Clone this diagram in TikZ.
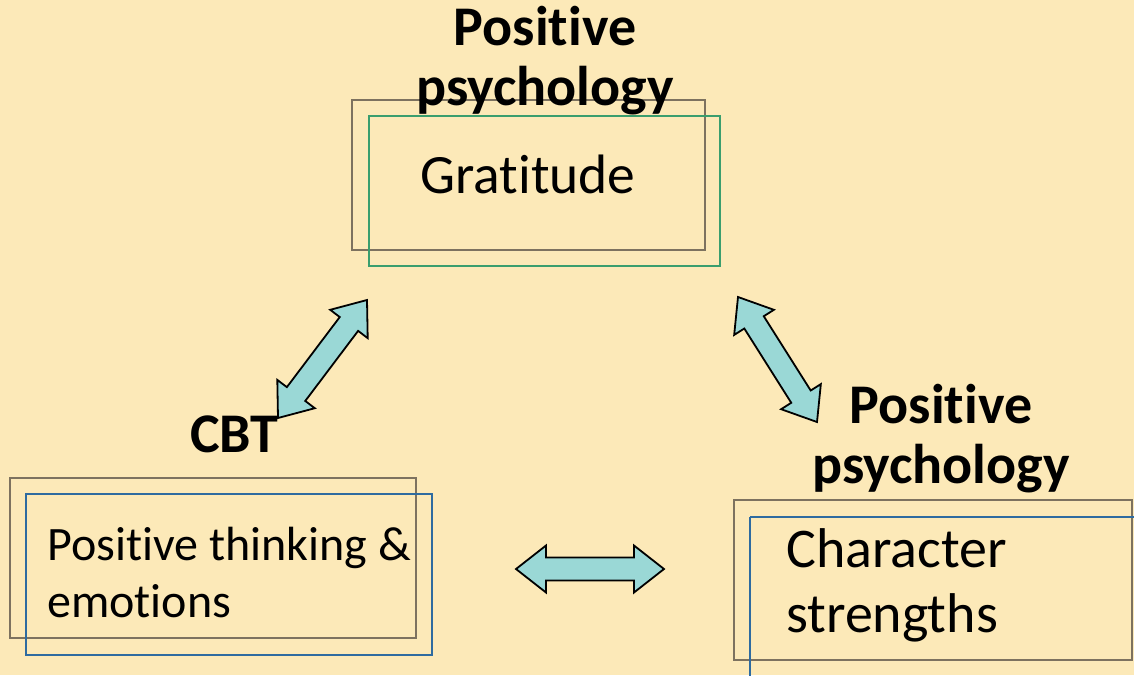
\documentclass[tikz,border=0pt]{standalone}
\usepackage{fontspec}
\setmainfont{Carlito}[Ligatures={NoCommon}]
\usetikzlibrary{calc}
\definecolor{bg}{HTML}{FCE9B8}
\definecolor{arrfill}{HTML}{9AD8D6}
\definecolor{graybox}{HTML}{7D725F}
\definecolor{greenbox}{HTML}{3A9E6E}
\definecolor{bluebox}{HTML}{2E6BA0}
\newcommand\dblarr[2]{%
  \draw[fatarrow] (#1)
   -- ($(#1)!30pt!(#2)!23.5pt!90:(#2)$)
   -- ($(#1)!30pt!(#2)!11.5pt!90:(#2)$)
   -- ($(#2)!30pt!(#1)!11.5pt!-90:(#1)$)
   -- ($(#2)!30pt!(#1)!23.5pt!-90:(#1)$)
   -- (#2)
   -- ($(#2)!30pt!(#1)!23.5pt!90:(#1)$)
   -- ($(#2)!30pt!(#1)!11.5pt!90:(#1)$)
   -- ($(#1)!30pt!(#2)!11.5pt!-90:(#2)$)
   -- ($(#1)!30pt!(#2)!23.5pt!-90:(#2)$)
   -- cycle;}
\begin{document}
\begin{tikzpicture}[x=1pt,y=-1pt,
  backbox/.style={draw=graybox,line width=2pt},
  frontg/.style={draw=greenbox,line width=1.5pt},
  frontb/.style={draw=bluebox,line width=1.5pt},
  fatarrow/.style={draw=black,line width=1.8pt,fill=arrfill,line join=miter},
  boldlbl/.style={inner sep=0pt,anchor=base,font=\fontsize{56}{60}\selectfont\bfseries},
  bodylbl/.style={inner sep=0pt,anchor=base west}]
\fill[bg] (0,0) rectangle (1134,675);
\useasboundingbox (0,0) rectangle (1134,675);
% Gratitude boxes
\draw[backbox] (352,100) rectangle (705,250);
\draw[frontg] (369,116) rectangle (720,266);
% left boxes
\draw[backbox] (10,478) rectangle (416,638);
\draw[frontb] (26,494) rectangle (432,655);
% right boxes
\draw[backbox] (734,500) rectangle (1132,660);
\draw[frontb] (750,517) -- (1140,517) (750,517) -- (750,680);
% labels
\node[boldlbl] (t1) at (545,45) {Positive};
\node[boldlbl] (t2) at (545,105) {psychology};
\node[boldlbl] (cbt) at (234,452) {CBT};
\node[boldlbl] (r1) at (941,423) {Positive};
\node[boldlbl] (r2) at (941,483) {psychology};
\node[inner sep=0pt,anchor=base,font=\fontsize{55.5}{60}\selectfont] (grat) at (528,193) {Gratitude};
\node[bodylbl,font=\fontsize{48}{57}\selectfont] (lt1) at (47,560) {Positive thinking \&};
\node[bodylbl,font=\fontsize{48}{57}\selectfont] (lt2) at (47,617) {emotions};
\node[bodylbl,font=\fontsize{56}{65}\selectfont] (rt1) at (786,567) {Character};
\node[bodylbl,font=\fontsize{56}{65}\selectfont] (rt2) at (786,632) {strengths};
% arrows
\coordinate (a1) at (367,300);
\coordinate (a2) at (278,418);
\coordinate (b1) at (738,297);
\coordinate (b2) at (817,422);
\coordinate (c1) at (516,569);
\coordinate (c2) at (664,569);
\dblarr{a1}{a2}
\dblarr{b1}{b2}
\dblarr{c1}{c2}
\end{tikzpicture}
\end{document}
